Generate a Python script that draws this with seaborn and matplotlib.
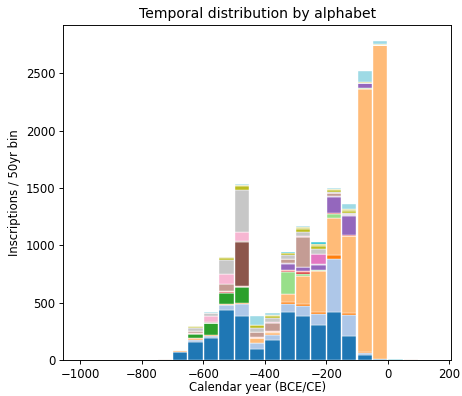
import numpy as np
import pandas as pd
import matplotlib
matplotlib.use("Agg")
import matplotlib.pyplot as plt
import seaborn as sns

# left edge of each 50-year bin that holds inscriptions
bin_left = [-750, -700, -650, -600, -550, -500, -450, -400, -350,
            -300, -250, -200, -150, -100, -50, 0, 50, 100]

# counts per alphabet (stacked bottom -> top)
a01 = [0, 68, 160, 192, 437, 380, 96, 175, 420, 382, 303, 414, 207, 44, 10, 0, 0, 0]
a02 = [0, 3, 15, 20, 38, 111, 50, 45, 68, 90, 102, 467, 187, 20, 0, 0, 0, 0]
a03 = [0, 4, 8, 6, 8, 8, 0, 8, 18, 12, 9, 38, 17, 8, 0, 0, 0, 0]
a04 = [0, 4, 5, 0, 5, 0, 47, 20, 70, 248, 362, 322, 668, 2290, 2735, 0, 3, 0]
a05 = [0, 6, 38, 105, 96, 137, 0, 0, 0, 0, 0, 0, 0, 0, 0, 0, 0, 0]
a06 = [0, 0, 0, 0, 0, 0, 0, 0, 190, 20, 12, 35, 5, 10, 0, 0, 0, 0]
a07 = [0, 0, 3, 0, 6, 0, 0, 0, 12, 15, 0, 8, 3, 0, 0, 0, 0, 0]
a08 = [0, 0, 10, 3, 14, 6, 5, 5, 8, 5, 0, 0, 0, 0, 0, 0, 0, 0]
a09 = [0, 0, 0, 0, 0, 0, 0, 0, 52, 42, 40, 134, 166, 42, 0, 0, 0, 0]
a10 = [4, 0, 0, 0, 0, 0, 0, 0, 8, 0, 5, 8, 8, 0, 0, 0, 0, 0]
a11 = [0, 0, 0, 0, 0, 390, 0, 0, 0, 0, 0, 0, 0, 0, 0, 0, 0, 0]
a12 = [6, 0, 15, 8, 58, 5, 48, 70, 30, 258, 0, 30, 12, 5, 0, 0, 5, 0]
a13 = [0, 0, 0, 0, 0, 0, 0, 0, 0, 0, 90, 0, 0, 0, 0, 0, 0, 0]
a14 = [0, 0, 0, 47, 87, 78, 0, 10, 0, 12, 5, 0, 0, 0, 0, 0, 0, 0]
a15 = [0, 0, 0, 0, 0, 0, 0, 0, 0, 0, 0, 0, 0, 0, 0, 0, 0, 0]
a16 = [0, 0, 25, 25, 122, 370, 35, 30, 35, 30, 38, 8, 12, 0, 0, 3, 0, 0]
a17 = [0, 5, 8, 0, 15, 30, 20, 20, 18, 30, 30, 18, 18, 6, 0, 0, 0, 0]
a18 = [0, 0, 5, 0, 8, 10, 5, 10, 5, 15, 15, 5, 12, 3, 10, 0, 0, 0]
a19 = [0, 0, 0, 0, 0, 0, 0, 0, 10, 0, 20, 0, 0, 0, 0, 0, 0, 0]
a20 = [0, 0, 0, 10, 5, 8, 80, 15, 0, 10, 0, 12, 45, 94, 27, 6, 0, 0]

series = [a01, a02, a03, a04, a05, a06, a07, a08, a09, a10,
          a11, a12, a13, a14, a15, a16, a17, a18, a19, a20]
names = [f"alphabet {i + 1}" for i in range(len(series))]

rows = []
for name, counts in zip(names, series):
    for left, c in zip(bin_left, counts):
        rows.append({"year": left + 25, "alphabet": name, "count": c})
df = pd.DataFrame(rows)

colors = sns.color_palette("tab20", 20)
palette = dict(zip(names, colors))

# reference looks like a downscaled default figure, so render at lower dpi
fig = plt.figure(figsize=(462 / 84, 396 / 84), dpi=84)
ax = fig.add_axes([0.137, 0.091, 0.839, 0.846])
sns.histplot(data=df, x="year", weights="count", hue="alphabet",
             hue_order=names[::-1], palette=palette, multiple="stack",
             binwidth=50, binrange=(-1000, 150), alpha=1, edgecolor="white",
             linewidth=0.35, shrink=0.93, legend=False, ax=ax)
ax.set_title("Temporal distribution by alphabet")
ax.set_xlabel("Calendar year (BCE/CE)", labelpad=0)
ax.set_ylabel("Inscriptions / 50yr bin")

fig.savefig("out.png", dpi=84)
